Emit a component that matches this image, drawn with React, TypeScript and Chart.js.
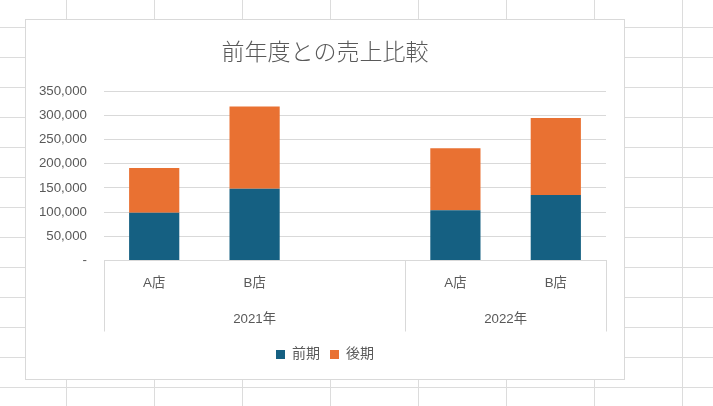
import React, { useEffect, useRef } from 'react';
import { Chart, registerables } from 'chart.js';

Chart.register(...registerables);

const categories = ['A店', 'B店', '', 'A店', 'B店'];
const groupLabels = ['2021年', '2022年'];
const groupSizes = [3, 2];
const seriesNames = ['前期', '後期'];
const firstHalf = [98500, 148000, null, 104000, 135000];
const secondHalf = [92500, 170000, null, 128000, 159000];
const yMax = 350000;
const yStep = 50000;
const titleText = '前年度との売上比較';

const FONT = "'Liberation Sans', 'Noto Sans CJK JP', sans-serif";
const TEXT = '#595959';
const GRID = '#d9d9d9';

const groupPlugin = {
  id: 'groupAxis',
  afterDraw(chart: any) {
    const ctx = chart.ctx;
    const xs = chart.scales.x;
    const { left, right, bottom } = chart.chartArea;
    const px = (i: number) => xs.getPixelForValue(i);
    ctx.save();
    ctx.strokeStyle = GRID;
    ctx.lineWidth = 1;
    ctx.fillStyle = TEXT;
    ctx.font = `13.3px ${FONT}`;
    ctx.textAlign = 'center';
    ctx.textBaseline = 'middle';
    let start = 0;
    const edges: number[] = [left];
    groupSizes.forEach((n, g) => {
      const end = start + n - 1;
      const l = start === 0 ? left : (px(start - 1) + px(start)) / 2;
      const r = end === categories.length - 1 ? right : (px(end) + px(end + 1)) / 2;
      edges.push(r);
      ctx.fillText(groupLabels[g], (l + r) / 2, bottom + 58.5);
      start += n;
    });
    edges.forEach((e) => {
      const x = Math.round(e) + 0.5;
      ctx.beginPath();
      ctx.moveTo(x, bottom);
      ctx.lineTo(x, bottom + 71);
      ctx.stroke();
    });
    ctx.restore();
  },
};

export default function App() {
  const ref = useRef<HTMLCanvasElement>(null);
  useEffect(() => {
    if (!ref.current) return;
    const chart = new Chart(ref.current, {
      type: 'bar',
      data: {
        labels: categories,
        datasets: [
          { label: seriesNames[0], data: firstHalf, backgroundColor: '#156082', borderWidth: 0 },
          { label: seriesNames[1], data: secondHalf, backgroundColor: '#E97132', borderWidth: 0 },
        ],
      },
      options: {
        animation: false,
        responsive: false,
        layout: { padding: { left: 0, right: 0, top: 0, bottom: 7.5 } },
        datasets: { bar: { categoryPercentage: 1, barPercentage: 0.5 } },
        plugins: {
          title: {
            display: true,
            text: titleText,
            color: TEXT,
            font: { family: "'Noto Sans CJK JP', sans-serif", size: 23, weight: '300' as any },
            padding: { top: 17, bottom: 26.4 },
          },
          legend: {
            position: 'bottom',
            labels: {
              boxWidth: 9,
              boxHeight: 9,
              color: TEXT,
              font: { family: FONT, size: 14 },
              padding: 10,
            },
          },
          tooltip: { enabled: false },
        },
        scales: {
          x: {
            stacked: true,
            grid: { display: false, drawTicks: false },
            border: { display: true, color: GRID },
            ticks: { color: TEXT, font: { family: FONT, size: 13.3 }, padding: 14.5 },
            afterFit: (s: any) => { s.height = 77; },
          },
          y: {
            stacked: true,
            min: 0,
            max: yMax,
            grid: { color: GRID, drawTicks: false },
            border: { display: false },
            ticks: {
              stepSize: yStep,
              color: TEXT,
              font: { family: FONT, size: 13.3 },
              padding: 17,
              callback: (v: any) => (Number(v) === 0 ? '-' : Number(v).toLocaleString('en-US')),
            },
            afterFit: (s: any) => { s.width = 78; },
          },
          yRight: {
            position: 'right',
            display: true,
            grid: { display: false, drawTicks: false },
            border: { display: false },
            ticks: { display: false },
            afterFit: (s: any) => { s.width = 18; },
          },
        },
      },
      plugins: [groupPlugin],
    });
    return () => chart.destroy();
  }, []);

  return (
    <div>
      <div
        style={{
          position: 'absolute',
          left: 0,
          top: 0,
          width: 713,
          height: 406,
          backgroundColor: '#ffffff',
          backgroundImage:
            'linear-gradient(to right, #dcdcdc 1px, transparent 1px), linear-gradient(to bottom, #dcdcdc 1px, transparent 1px)',
          backgroundSize: '88px 100%, 100% 30px',
          backgroundPosition: '66px 0, 0 27px',
        }}
      />
      <div
        style={{
          position: 'absolute',
          left: 25,
          top: 19,
          width: 600,
          height: 361,
          boxSizing: 'border-box',
          border: '1px solid #d9d9d9',
          background: '#ffffff',
        }}
      >
        <canvas ref={ref} width={598} height={359} style={{ display: 'block' }} />
      </div>
    </div>
  );
}
